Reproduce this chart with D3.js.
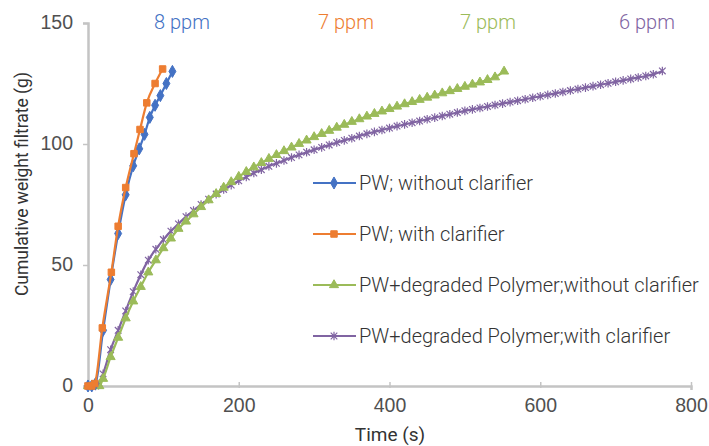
<!DOCTYPE html>
<html>
<head>
<meta charset="utf-8">
<script src="https://cdn.jsdelivr.net/npm/d3@7"></script>
<style>
  html, body { margin: 0; padding: 0; background: #fff; }
  svg { display: block; font-family: Roboto, "Open Sans", sans-serif; }
</style>
</head>
<body>
<svg id="chart" width="709" height="446"></svg>
<script>
// series: PW without clarifier (blue)
const blueT = [0, 5, 10, 20, 30, 40, 50, 60, 68, 75, 82, 89, 96, 104, 112];
const blueV = [0, 0, 1, 23, 44, 63, 79, 91, 98, 104, 111, 116, 120, 125, 130];

// PW with clarifier (orange)
const orangeT = [0, 5, 9, 19, 31, 40, 50, 61, 69, 78, 89, 99];
const orangeV = [0, 0, 1, 24, 47, 66, 82, 96, 106, 117, 125, 131];

// PW + degraded polymer, without clarifier (green)
const greenT = [0, 5, 10, 15, 20, 30, 40, 50, 60, 70, 80, 90, 100, 110, 120, 130, 140, 150,
  160, 170, 180, 190, 200, 210, 220, 230, 240, 250, 260, 270, 280, 290, 300, 310, 320, 330,
  340, 350, 360, 370, 380, 390, 400, 410, 420, 430, 440, 450, 460, 470, 480, 490, 500, 510,
  520, 530, 540, 552];
const greenV = [0, 0, 0, 0, 3, 12, 20, 28, 35, 41, 47, 52, 57, 61, 65, 68, 71, 74,
  76.8, 79.4, 82, 84.3, 86.5, 88.5, 90.4, 92.2, 93.9, 95.5, 97.1, 98.6, 100.1, 101.5, 102.9, 104.2, 105.5, 106.8,
  108, 109.2, 110.3, 111.4, 112.5, 113.5, 114.5, 115.5, 116.5, 117.4, 118.3, 119.2, 120.1, 121, 121.9, 122.8, 123.7, 124.6,
  125.5, 126.5, 127.6, 130];

// PW + degraded polymer, with clarifier (purple)
const purpleT = [0, 5, 10, 15, 20, 30, 40, 50, 60, 70, 80, 90, 100, 110, 120, 130, 140, 150,
  160, 170, 180, 190, 200, 210, 220, 230, 240, 250, 260, 270, 280, 290, 300, 310, 320, 330,
  340, 350, 360, 370, 380, 390, 400, 410, 420, 430, 440, 450, 460, 470, 480, 490, 500, 510,
  520, 530, 540, 550, 560, 570, 580, 590, 600, 610, 620, 630, 640, 650, 660, 670, 680, 690,
  700, 710, 720, 730, 740, 750, 762];
const purpleV = [0, 0, 0, 1, 5, 15, 23, 31, 39, 46, 52, 56.5, 60.5, 64, 67, 70, 72.5, 75,
  77.2, 79.3, 81.2, 83, 84.8, 86.4, 88, 89.4, 90.8, 92, 93.2, 94.4, 95.5, 96.6, 97.6, 98.6, 99.6, 100.6,
  101.5, 102.4, 103.3, 104.2, 105, 105.8, 106.6, 107.4, 108.1, 108.8, 109.5, 110.2, 110.9, 111.6, 112.3, 113, 113.7, 114.3,
  114.9, 115.5, 116.1, 116.7, 117.3, 117.9, 118.5, 119.1, 119.7, 120.3, 120.9, 121.5, 122.1, 122.7, 123.3, 123.9, 124.5, 125.1,
  125.7, 126.3, 126.9, 127.5, 128.1, 128.8, 130.2];

const seriesNames = [
  "PW; without clarifier",
  "PW; with clarifier",
  "PW+degraded Polymer;without clarifier",
  "PW+degraded Polymer;with clarifier"
];
const ppmLabels = ["8 ppm", "7 ppm", "7 ppm", "6 ppm"];
const xTicks = [0, 200, 400, 600, 800];
const yTicks = [0, 50, 100, 150];

const colors = ["#4472c4", "#ed7d31", "#9bbb59", "#8064a2"];

const svg = d3.select("#chart");
const x = d3.scaleLinear().domain([0, 800]).range([88, 691]);
const y = d3.scaleLinear().domain([0, 150]).range([386, 23]);

// axes
const xAxis = svg.append("g")
  .attr("transform", `translate(0,${y(0)})`)
  .call(d3.axisBottom(x).tickValues(xTicks).tickSize(4).tickPadding(8));
const yAxis = svg.append("g")
  .attr("transform", `translate(${x(0)},0)`)
  .call(d3.axisLeft(y).tickValues(yTicks).tickSize(5).tickPadding(10));

[xAxis, yAxis].forEach(a => {
  a.select(".domain").attr("stroke", "#c4c4c4").attr("stroke-width", 2.5);
  a.selectAll(".tick line").attr("stroke", "#c4c4c4").attr("stroke-width", 1.5);
  a.selectAll(".tick text")
    .attr("fill", "#505050")
    .style("font-size", "19.5px")
    .style("font-weight", 300);
});
xAxis.selectAll(".tick line").attr("y1", -4).attr("y2", 2);
yAxis.selectAll(".tick text").attr("dy", "0.3em");

svg.append("text")
  .attr("x", 390).attr("y", 441)
  .attr("text-anchor", "middle")
  .attr("fill", "#333")
  .style("font-size", "19px")
  .text("Time (s)");

svg.append("text")
  .attr("transform", "translate(28,184) rotate(-90)")
  .attr("text-anchor", "middle")
  .attr("fill", "#333")
  .style("font-size", "17.5px")
  .text("Cumulative weight filtrate (g)");

// marker paths
const starPath = s => `M${-s},${-s}L${s},${s}M${-s},${s}L${s},${-s}M0,${-s * 1.3}L0,${s * 1.3}`;
const markerFns = [
  g => g.append("path").attr("d", d3.symbol(d3.symbolDiamond, 42)()),
  g => g.append("path").attr("d", d3.symbol(d3.symbolSquare, 42)()),
  g => g.append("path").attr("d", d3.symbol(d3.symbolTriangle, 36)()),
  g => g.append("path").attr("d", starPath(3.3)).attr("fill", "none").attr("stroke-width", 1.2)
];

const allSeries = [
  d3.zip(blueT, blueV),
  d3.zip(orangeT, orangeV),
  d3.zip(greenT, greenV),
  d3.zip(purpleT, purpleV)
];

const line = d3.line().x(d => x(d[0])).y(d => y(d[1])).curve(d3.curveMonotoneX);

// draw order: purple, green, blue, orange
[3, 2, 0, 1].forEach(i => {
  const data = allSeries[i];
  svg.append("path")
    .datum(data)
    .attr("d", line)
    .attr("fill", "none")
    .attr("stroke", colors[i])
    .attr("stroke-width", 2.2);
  data.forEach(d => {
    const g = svg.append("g")
      .attr("transform", `translate(${x(d[0])},${y(d[1])})`)
      .attr("fill", colors[i])
      .attr("stroke", colors[i]);
    markerFns[i](g);
  });
});

// ppm labels
const ppmX = [182, 346, 488, 647];
ppmLabels.forEach((t, i) => {
  svg.append("text")
    .attr("x", ppmX[i]).attr("y", 29)
    .attr("text-anchor", "middle")
    .attr("fill", colors[i])
    .style("font-size", "20px")
    .style("font-weight", 300)
    .text(t);
});

// legend
const legend = svg.append("g").attr("transform", "translate(313,183)");
seriesNames.forEach((name, i) => {
  const row = legend.append("g").attr("transform", `translate(0,${i * 51})`);
  row.append("rect").attr("x", -6).attr("y", -13).attr("width", 400).attr("height", 26).attr("fill", "#fff");
  row.append("line")
    .attr("x1", 0).attr("x2", 43)
    .attr("stroke", colors[i]).attr("stroke-width", 2.2);
  const g = row.append("g")
    .attr("transform", "translate(21,0)")
    .attr("fill", colors[i]).attr("stroke", colors[i]);
  markerFns[i](g);
  row.append("text")
    .attr("x", 46).attr("y", 7)
    .attr("fill", "#333")
    .style("font-size", "20px")
    .style("font-weight", 300)
    .text(name);
});
</script>
</body>
</html>
